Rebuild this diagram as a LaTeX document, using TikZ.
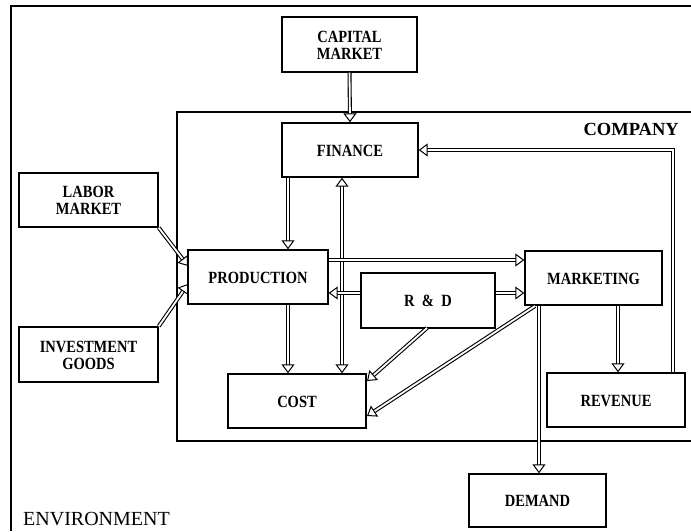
\documentclass[tikz,border=0pt]{standalone}
\usepackage{fontspec}
\usepackage{graphicx}
\setmainfont{Liberation Serif}
\usetikzlibrary{arrows.meta}
\newcommand{\tallt}[1]{\raisebox{-3pt}[\height][\depth]{\scalebox{1}[1.18]{\begin{tabular}{@{}c@{}}#1\end{tabular}}}}
\begin{document}
\begin{tikzpicture}[x=1pt,y=-1pt,
  boxnode/.style={draw,line width=1.4pt,inner sep=0pt,align=center,
    font=\bfseries\fontsize{14.5}{14.5}\selectfont},
  frameline/.style={line width=1.7pt},
  tipa/.tip={Triangle[open,width=13pt,length=9pt,line width=1pt]},
  dbl/.style={double,double distance=1.8pt,line width=1.1pt,-tipa},
  dblboth/.style={double,double distance=1.8pt,line width=1.1pt,tipa-tipa}
]
\useasboundingbox (0,0) rectangle (691,531);
% frames
\draw[frameline] (691,6) -- (11,6) -- (11,531);
\draw[frameline] (691,112) -- (177,112) -- (177,441) -- (691,441);
\node[anchor=base west,font=\fontsize{20}{20}\selectfont,inner sep=0pt] (envlabel) at (23,525) {ENVIRONMENT};
\node[anchor=base east,font=\bfseries\fontsize{18.5}{18.5}\selectfont,inner sep=0pt] (complabel) at (679,135) {COMPANY};
% boxes
\node[boxnode,minimum width=135pt,minimum height=55pt] (cap) at (349.5,44.5) {\tallt{CAPITAL\\MARKET}};
\node[boxnode,minimum width=136pt,minimum height=54pt] (fin) at (350,150) {\tallt{FINANCE}};
\node[boxnode,minimum width=139pt,minimum height=54pt] (lab) at (88.5,200) {\tallt{LABOR\\MARKET}};
\node[boxnode,minimum width=139pt,minimum height=55pt] (inv) at (88.5,354.5) {\tallt{INVESTMENT\\GOODS}};
\node[boxnode,minimum width=140pt,minimum height=54pt] (prod) at (258,277) {\tallt{PRODUCTION}};
\node[boxnode,minimum width=134pt,minimum height=55pt] (rd) at (428,300.5) {\tallt{R\enspace\&\enspace D}};
\node[boxnode,minimum width=137pt,minimum height=54pt] (mkt) at (593.5,278) {\tallt{MARKETING}};
\node[boxnode,minimum width=138pt,minimum height=54pt] (cost) at (297,401) {\tallt{COST}};
\node[boxnode,minimum width=138pt,minimum height=54pt] (rev) at (616,400) {\tallt{REVENUE}};
\node[boxnode,minimum width=137pt,minimum height=53pt] (dem) at (537.5,500.5) {\tallt{DEMAND}};
% helper coordinates
\coordinate (rdcostA) at (427,328);
\coordinate (rdcostB) at (367,381);
\coordinate (mktcostA) at (535,306);
\coordinate (mktcostB) at (367,416);
\coordinate (revcorner) at (673,150);
\coordinate (labend) at (188,266);
\coordinate (invend) at (188,284);
% connectors
\draw[dbl] (cap.south) -- (fin.north);
\draw[dbl] (fin.south -| 288,0) -- (prod.north -| 288,0);
\draw[dblboth] (fin.south -| 342,0) -- (cost.north -| 342,0);
\draw[dbl] (prod.south -| 288,0) -- (cost.north -| 288,0);
\draw[dbl] (prod.east |- 0,260) -- (mkt.west |- 0,260);
\draw[dbl] (rd.west |- 0,293) -- (prod.east |- 0,293);
\draw[dbl] (rd.east |- 0,293) -- (mkt.west |- 0,293);
\draw[dbl] (rdcostA) -- (rdcostB);
\draw[dbl] (mktcostA) -- (mktcostB);
\draw[dbl] (mkt.south -| 539,0) -- (dem.north -| 539,0);
\draw[dbl] (mkt.south -| 618,0) -- (rev.north -| 618,0);
\draw[dbl] (rev.north -| 673,0) -- (revcorner) -- (fin.east);
\draw[dbl] (lab.south east) -- (labend);
\draw[dbl] (inv.north east) -- (invend);
\end{tikzpicture}
\end{document}
